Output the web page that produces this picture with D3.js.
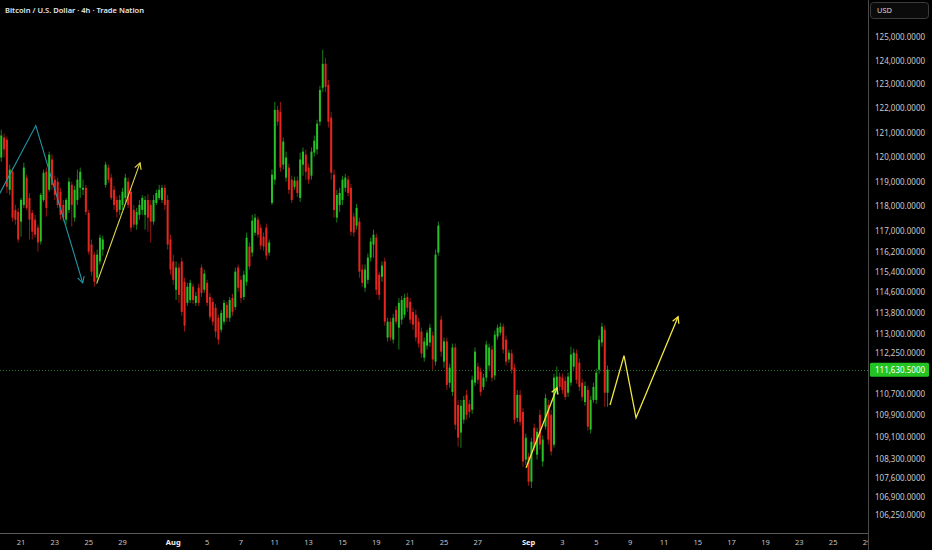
<!DOCTYPE html>
<html><head><meta charset="utf-8">
<script src="https://cdn.jsdelivr.net/npm/d3@7"></script>
<style>html,body{margin:0;padding:0;background:#000;}svg{display:block;}</style>
</head><body>
<svg id="chart" width="932" height="550"></svg>
<script>
// ---------------- DATA ----------------
const title = "Bitcoin / U.S. Dollar · 4h · Trade Nation";
const currency = "USD";
const firstCandle = "2025-07-17T20:00:00Z"; // 4h candles, weekdays only
// [open, high, low, close]
const candles = [
[119990,121130,119820,120890],[120810,120970,119990,120320],[120720,120850,118550,118800],[118680,119700,118470,119500],
[119410,119580,117400,117560],[117870,118070,117280,117480],[117790,117950,116570,116690],[117400,118350,116800,118270],
[118070,119780,117950,119580],[119170,119290,117870,117950],[118350,118550,116690,117480],[117750,117870,116690,117000],
[117480,117670,116760,116880],[117160,117280,116210,116570],[116610,118550,116490,118470],[118270,119500,118190,119370],
[119410,119580,117600,117950],[118680,120230,118600,120110],[119910,120110,118680,118880],[119090,119250,118270,118470],
[119010,119170,117950,118070],[118600,118760,117480,117670],[118070,118270,117400,117560],[117480,118350,117280,118270],
[117870,119170,117750,119010],[118880,119010,117200,118070],[117560,118840,117400,118680],[118270,119500,118070,119090],
[118760,119580,118350,119410],[118680,119090,118470,118760],[118760,118880,117670,117790],[117750,117870,116090,116210],
[116490,116690,115260,115420],[116090,116210,114830,115020],[115180,116290,115020,116090],[115820,116880,115700,116760],
[116290,116840,116050,116690],[118880,119820,118760,119700],[119580,119700,118960,119090],[119170,119330,118270,118350],
[118680,118840,117870,118070],[118270,118430,117560,117790],[117870,118470,117670,118270],[118070,118760,117870,118600],
[118350,119330,118190,119170],[119010,119170,117950,118070],[118600,118760,117000,117160],[117870,118070,117160,117280],
[117280,117950,117080,117790],[117670,118270,117480,118070],[117870,118470,117670,118350],[117670,118430,117080,118270],
[118270,118510,117000,117560],[118070,118270,116570,117400],[117400,118470,117280,118270],[118150,118680,118070,118550],
[118350,118880,118270,118680],[118270,118880,118150,118760],[118760,118880,117870,118070],[118270,118470,116290,116490],
[116690,116880,115300,115500],[115820,116090,114900,115100],[114710,115820,114310,115580],[115580,115740,114200,114510],
[115820,115970,113700,113850],[115020,115180,113090,113320],[114200,114980,114080,114830],[114310,115100,114200,114980],
[114830,114940,114160,114310],[114200,114630,114080,114470],[114790,114940,114080,114200],[115580,115700,114430,114590],
[114710,115500,114590,115340],[114980,115100,114080,114200],[114430,114590,113550,113660],[114240,114390,113320,113470],
[114010,114160,112860,113090],[113620,113740,112590,112780],[113160,113930,113050,113810],[113470,114310,113360,114200],
[114120,114240,113470,113620],[113620,114430,113470,114310],[114390,114550,113700,113850],[114040,115580,113930,115420],
[115580,115700,114630,114790],[115100,115260,114200,114390],[114430,115460,114310,115300],[115020,116960,114870,116760],
[116410,116570,115500,115620],[116170,117670,116010,117440],[116960,117710,116840,117560],[117480,117600,116760,116880],
[117160,117280,116290,116450],[116800,116960,116250,116410],[117160,117320,115890,116050],[116170,116690,116050,116570],
[118150,119500,118070,119290],[119090,122280,118880,121950],[121950,122120,121300,121460],[121870,122280,119410,119580],
[119700,120810,119500,120640],[119170,120230,119010,119990],[119580,119740,118510,118680],[119090,119250,118150,118270],
[118800,119210,118680,119050],[119050,119210,118390,118550],[118350,120190,118190,119910],[119700,120400,119250,120230],
[120110,120320,119090,119410],[119580,119740,118920,119090],[119250,120400,119090,120230],[120190,120890,120030,120680],
[120320,121540,120110,121380],[121460,122950,121300,122780],[122870,124470,122700,123880],[123880,124130,122700,122910],
[122990,123200,121220,121460],[121630,121870,119090,119370],[119290,119500,117560,117870],[117560,118680,117360,118470],
[118070,118760,117790,118550],[118270,119250,118070,119090],[118760,119330,118600,119170],[119090,119250,118430,118550],
[118760,118920,116840,117000],[117600,117750,116800,116960],[117240,118110,117080,117950],[117400,117560,115180,115420],
[115500,115700,114830,114980],[114790,115700,114630,115500],[115100,116130,114940,115970],[115970,116760,115820,116610],
[116490,117080,115970,116880],[116760,116920,114510,114710],[115300,115420,114310,114510],[115220,115820,115020,115660],
[115820,115970,113320,113470],[112860,113620,112710,113470],[113470,113620,112740,112860],[112780,113780,112630,113620],
[113930,114080,113360,113470],[113240,114390,112400,114200],[113550,114470,113360,114310],[113740,114550,113620,114390],
[114430,114590,113850,114010],[114240,114390,113390,113550],[113850,114010,113160,113360],[113740,113930,112710,112860],
[113470,113620,112480,112630],[113090,113240,112090,112250],[112090,112860,111940,112710],[112550,113160,112400,113050],
[112670,113390,112510,113240],[112940,113090,111630,112020],[111940,116290,111790,116090],[116170,117400,116050,117240],
[113550,113700,112130,112320],[111940,112860,111710,112710],[112710,112860,110870,111060],[111140,111860,110950,111710],
[110790,112630,110640,112480],[112480,112630,109380,109560],[110300,110490,108750,109080],[109270,110490,108710,110270],
[109750,110640,109600,110490],[110680,110870,109750,109930],[110340,110490,109820,110040],[110120,111410,109970,111250],
[111140,112480,111020,112320],[111750,111900,111100,111250],[111560,111710,110640,110790],[110980,111480,110870,111330],
[111330,112740,111180,112590],[111790,112630,111630,112480],[112400,112550,111180,111330],[111410,113130,111250,112970],
[112900,113360,112780,113240],[113050,113430,112940,113280],[113280,113390,112250,112400],[112780,112940,111790,111940],
[112020,112400,111900,112280],[112250,112400,111480,111630],[111710,111860,109600,109750],[109820,110870,109670,110680],
[110680,110870,109530,109670],[110040,110190,108010,108200],[108270,109230,108080,109080],[108380,108530,107310,107460],
[107460,109080,107230,108930],[109450,109600,108570,108710],[108450,109450,108270,109300],[109930,110120,108640,108820],
[108200,109160,108010,109010],[109490,110720,109380,110560],[110300,110490,108820,109010],[109930,110120,108420,108570],
[108820,111480,108710,111330],[110870,111750,110720,111370],[111370,111520,110830,110980],[111330,111480,110720,110870],
[111210,111370,110490,110600],[110760,111520,110600,111370],[111140,112510,111020,112210],[111750,112440,111630,112280],
[112250,112400,111100,111250],[111900,112060,110830,110980],[111140,111290,110450,110600],[110410,111180,110270,111020],
[110870,111020,109340,109490],[109380,110640,109230,110490],[110490,111140,110380,110980],[110490,111670,110340,111520],
[111630,112940,111480,112780],[112670,113430,112510,113280],[113160,113320,110230,110760],[110760,111790,110230,111630.5]
];
const lastPrice = 111630.5;
const yTickValues = [125000,124000,123000,122000,121000,120000,119000,118000,117000,116200,115400,114600,
  113800,113000,112250,110700,109900,109100,108300,107600,106900,106250];
const xTickDates = ["2025-07-21","2025-07-23","2025-07-25","2025-07-29","2025-08-01","2025-08-05","2025-08-07",
  "2025-08-11","2025-08-13","2025-08-15","2025-08-19","2025-08-21","2025-08-25","2025-08-27","2025-09-01",
  "2025-09-03","2025-09-05","2025-09-09","2025-09-11","2025-09-15","2025-09-17","2025-09-19","2025-09-23",
  "2025-09-25","2025-09-29"];
const xTickLabels = ["21","23","25","29","Aug","5","7","11","13","15","19","21","25","27","Sep","3","5","9","11",
  "15","17","19","23","25","29"];
// drawn annotation paths: [time, price]
const cyanPath = [["2025-07-17T16:00:00Z",118430],["2025-07-21T21:00:00Z",121300],["2025-07-24T15:30:00Z",114980]];
const yellowPath1 = [["2025-07-25T11:20:00Z",114950],["2025-07-30T00:50:00Z",119770]];
const yellowPath2 = [["2025-08-29T20:25:00Z",107970],["2025-09-02T16:20:00Z",110950]];
const yellowPath3 = [["2025-09-05T19:30:00Z",110300],["2025-09-08T15:20:00Z",112170],
  ["2025-09-09T08:25:00Z",109820],["2025-09-11T20:00:00Z",113660]];

// ---------------- LAYOUT ----------------
const W = 932, H = 550, plotR = 868, plotB = 533;
const svg = d3.select("#chart");
svg.append("rect").attr("width",W).attr("height",H).attr("fill","#000");

const base = Date.UTC(2025,6,21);
function tdIndex(t){ // trading-day index (weekdays only) from Jul 21
  const ms = (t instanceof Date ? t : new Date(t)).getTime() - base;
  const whole = Math.floor(ms/864e5);
  const frac = ms/864e5 - whole;
  const wk = Math.floor(whole/7), rem = whole - wk*7;
  return wk*5 + Math.min(rem,5) + (rem < 5 ? frac : 0);
}
const x = d3.scaleLinear().domain([0,50]).range([21,867]);
const y = d3.scaleLog().domain([105599,126596]).range([plotB,0]);

// candle times
const times = [];
{ let t = new Date(firstCandle).getTime();
  while (times.length < candles.length){
    const d = new Date(t).getUTCDay();
    if (d !== 0 && d !== 6) times.push(new Date(t));
    t += 4*3600e3;
  } }

const defs = svg.append("defs");
defs.append("clipPath").attr("id","plotClip").append("rect").attr("x",0).attr("y",0).attr("width",plotR).attr("height",plotB);
defs.append("clipPath").attr("id","xClip").append("rect").attr("x",0).attr("y",plotB).attr("width",plotR).attr("height",H-plotB);

const plot = svg.append("g").attr("clip-path","url(#plotClip)");
const GREEN = "#25c225", RED = "#e5261e";

// current price dotted line
plot.append("line").attr("x1",0).attr("x2",plotR).attr("y1",Math.round(y(lastPrice))+0.5).attr("y2",Math.round(y(lastPrice))+0.5)
  .attr("stroke","#3c8f3c").attr("stroke-opacity",0.8).attr("stroke-width",1).attr("stroke-dasharray","1,2");

const cg = plot.append("g");
candles.forEach((c,i)=>{
  const [o,h,l,cl] = c;
  const cx = x(tdIndex(times[i]));
  const col = cl >= o ? GREEN : RED;
  cg.append("line").attr("x1",cx).attr("x2",cx).attr("y1",y(h)).attr("y2",y(l))
    .attr("stroke",col).attr("stroke-opacity",0.65).attr("stroke-width",1);
  const top = y(Math.max(o,cl)), bot = y(Math.min(o,cl));
  cg.append("rect").attr("x",cx-1).attr("width",2).attr("y",top).attr("height",Math.max(1,bot-top)).attr("fill",col);
});

// annotation arrows
function drawArrow(pts,color,w){
  const P = pts.map(p=>[x(tdIndex(p[0])), y(p[1])]);
  plot.append("path").attr("d",d3.line()(P)).attr("fill","none").attr("stroke",color)
    .attr("stroke-width",w).attr("stroke-linejoin","miter");
  const a = P[P.length-2], b = P[P.length-1];
  const ang = Math.atan2(b[1]-a[1], b[0]-a[0]);
  const L = 7, s = 0.5;
  const p1 = [b[0]-L*Math.cos(ang-s), b[1]-L*Math.sin(ang-s)];
  const p2 = [b[0]-L*Math.cos(ang+s), b[1]-L*Math.sin(ang+s)];
  plot.append("path").attr("d",d3.line()([p1,b,p2])).attr("fill","none").attr("stroke",color).attr("stroke-width",w);
}
drawArrow(cyanPath,"#2397a9",1.1);
drawArrow(yellowPath1,"#e3da4c",1.1);
drawArrow(yellowPath2,"#f2e640",1.3);
drawArrow(yellowPath3,"#f2e640",1.3);

// axes lines
svg.append("line").attr("x1",plotR+0.5).attr("x2",plotR+0.5).attr("y1",0).attr("y2",H).attr("stroke","#4a4a4a");
svg.append("line").attr("x1",0).attr("x2",plotR).attr("y1",plotB+0.5).attr("y2",plotB+0.5).attr("stroke","#5a5a5a");

const FONT = "'Noto Sans', 'DejaVu Sans', sans-serif";
// y axis labels
const fmt = d3.format(",.4f");
svg.append("g").selectAll("text").data(yTickValues).join("text")
  .attr("x",875).attr("y",d=>y(d)).attr("dy","0.35em")
  .attr("fill","#c9cbd1").attr("font-family",FONT).attr("font-size",8).text(d=>fmt(d));

// current price label
const py = y(lastPrice);
svg.append("rect").attr("x",870).attr("y",py-7).attr("width",59).attr("height",14).attr("rx",1.5).attr("fill","#22c322");
svg.append("text").attr("x",875).attr("y",py).attr("dy","0.35em").attr("fill","#fff")
  .attr("font-family",FONT).attr("font-size",8).text(fmt(lastPrice));

// USD box
svg.append("rect").attr("x",870.5).attr("y",2.5).attr("width",58).attr("height",16).attr("rx",3)
  .attr("fill","#0b0b0b").attr("stroke","#3c3c3c");
svg.append("text").attr("x",877).attr("y",10.5).attr("dy","0.35em").attr("fill","#d6d6d6")
  .attr("font-family",FONT).attr("font-size",7.5).text(currency);

// x axis labels
svg.append("g").attr("clip-path","url(#xClip)").selectAll("text").data(xTickDates).join("text")
  .attr("x",d=>x(tdIndex(d+"T00:00:00Z"))).attr("y",542).attr("dy","0.35em").attr("text-anchor","middle")
  .attr("font-family",FONT).attr("font-size",7.5)
  .attr("font-weight",(d,i)=>isNaN(+xTickLabels[i])?700:400)
  .attr("fill",(d,i)=>isNaN(+xTickLabels[i])?"#f0f0f0":"#c2c4ca")
  .text((d,i)=>xTickLabels[i]);

// title
svg.append("text").attr("x",5).attr("y",10).attr("dy","0.35em").attr("fill","#e6e6e6")
  .attr("font-family","'Noto Sans', sans-serif").attr("font-size",7.5).attr("font-weight",600)
  .attr("textLength",139).attr("lengthAdjust","spacingAndGlyphs").text(title);
</script>
</body></html>
